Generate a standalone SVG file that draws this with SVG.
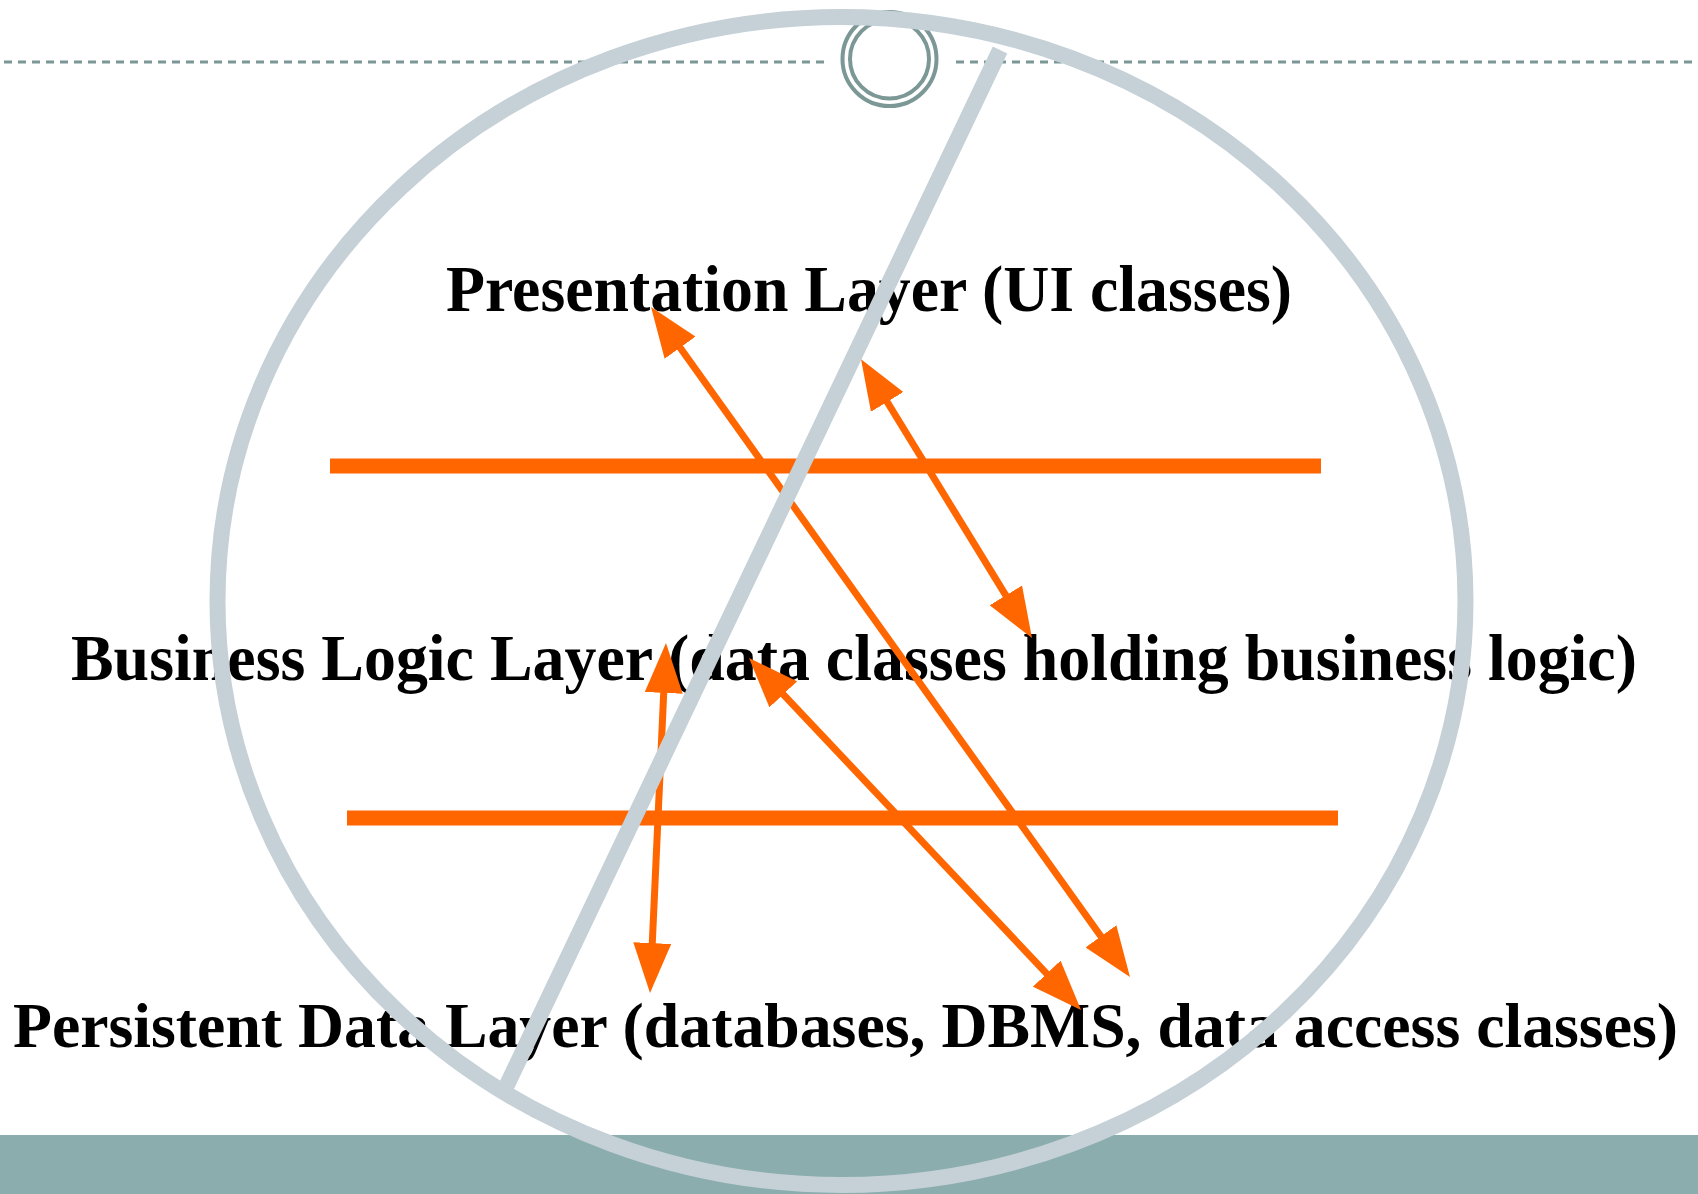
<svg xmlns="http://www.w3.org/2000/svg" width="1698" height="1194" viewBox="0 0 1698 1194">
<style>
.lbl{font-family:"Liberation Serif","Times New Roman",serif;font-weight:bold;font-size:65px;fill:#000}
.bar{stroke:#ff6600;stroke-width:15;fill:none}
.arr{stroke:#ff6600;stroke-width:7;fill:none;marker-start:url(#ah);marker-end:url(#ah)}
.no{stroke:#c5d1d7;stroke-width:16;fill:none}
.ring{stroke:#7b9896;stroke-width:4;fill:none}
</style>
<defs>
<marker id="ah" markerUnits="userSpaceOnUse" markerWidth="50" markerHeight="38" refX="38" refY="19" orient="auto-start-reverse" viewBox="0 0 50 38">
<path d="M0,0 L50,19 L0,38 z" fill="#ff6600"/>
</marker>
</defs>
<rect width="1698" height="1194" fill="#fff"/>
<g id="footer-band"><rect x="0" y="1135" width="1698" height="59" fill="#8badad"/></g>
<g id="header-rule">
<line x1="4" y1="62" x2="824" y2="62" stroke="#7b9896" stroke-width="3" stroke-dasharray="8 6"/>
<line x1="956" y1="62" x2="1698" y2="62" stroke="#7b9896" stroke-width="3" stroke-dasharray="8 6"/>
</g>
<g id="header-rings">
<circle cx="889.5" cy="59" r="47" fill="#fff" class="ring"/>
<circle cx="889.5" cy="59" r="39.5" class="ring"/>
</g>
<g id="presentation-layer"><text class="lbl" x="446" y="311" textLength="846" lengthAdjust="spacingAndGlyphs">Presentation Layer (UI classes)</text></g>
<g id="business-layer"><text class="lbl" x="71" y="680" textLength="1566" lengthAdjust="spacingAndGlyphs">Business Logic Layer (data classes holding business logic)</text></g>
<g id="persistent-layer"><text class="lbl" style="font-size:63px" x="13" y="1047" textLength="1665" lengthAdjust="spacingAndGlyphs">Persistent Data Layer (databases, DBMS, data access classes)</text></g>
<g id="separators">
<line class="bar" x1="330" y1="466" x2="1321" y2="466"/>
<line class="bar" x1="347" y1="818" x2="1338" y2="818"/>
</g>
<g id="connectors">
<line class="arr" x1="658" y1="316.8" x2="1123" y2="967.2"/>
<line class="arr" x1="867.3" y1="369.5" x2="1025.7" y2="627.8"/>
<line class="arr" x1="665.45" y1="655" x2="650.55" y2="981"/>
<line class="arr" x1="757.2" y1="666.7" x2="1072.8" y2="1001.3"/>
</g>
<g id="prohibition-sign">
<ellipse class="no" cx="841.5" cy="601" rx="624" ry="584"/>
<line class="no" x1="1000" y1="50" x2="506" y2="1087"/>
</g>
</svg>
